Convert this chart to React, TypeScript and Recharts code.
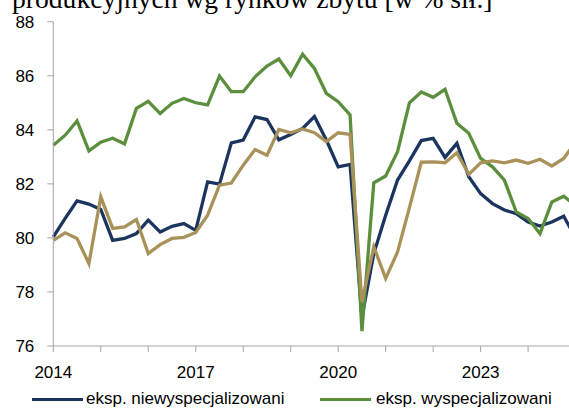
import { LineChart, Line, XAxis, YAxis } from 'recharts';

// quarter index, 0 = 2014 Q1
const quarters = Array.from({ length: 45 }, (_, i) => i);

const nonSpecialised = [
  80.04, 80.72, 81.37, 81.25, 81.05, 79.91, 79.98, 80.16, 80.66, 80.22, 80.43, 80.53,
  80.28, 82.07, 81.99, 83.52, 83.62, 84.48, 84.38, 83.63, 83.83, 84.05, 84.49, 83.62,
  82.63, 82.72, 77.07, 79.42, 80.84, 82.14, 82.85, 83.6, 83.68, 82.98, 83.5, 82.26,
  81.64, 81.27, 81.03, 80.9, 80.59, 80.44, 80.59, 80.8, 80.0,
];

const specialised = [
  83.43, 83.8, 84.33, 83.22, 83.54, 83.69, 83.48, 84.79, 85.05, 84.6, 84.98, 85.16,
  85.0, 84.92, 85.99, 85.41, 85.41, 85.96, 86.36, 86.62, 86.0, 86.8, 86.27, 85.35,
  85.04, 84.55, 76.55, 82.04, 82.29, 83.19, 85.0, 85.4, 85.2, 85.5, 84.24, 83.87,
  82.94, 82.63, 82.14, 80.96, 80.72, 80.16, 81.33, 81.54, 81.2,
];

const other = [
  79.91, 80.19, 79.98, 79.05, 81.52, 80.35, 80.41, 80.68, 79.42, 79.75, 79.98, 80.02,
  80.2, 80.84, 81.95, 82.03, 82.69, 83.27, 83.06, 84.01, 83.89, 84.03, 83.89, 83.56,
  83.89, 83.83, 77.63, 79.67, 78.5, 79.48, 81.12, 82.8, 82.81, 82.78, 83.15, 82.35,
  82.78, 82.85, 82.78, 82.88, 82.76, 82.91, 82.66, 82.94, 83.55,
];

const yTicks = [76, 78, 80, 82, 84, 86, 88];
const xTicks = [0, 4, 8, 12, 16, 20, 24, 28, 32, 36, 40, 44];
const labelledYears: Record<number, string> = { 0: '2014', 12: '2017', 24: '2020', 36: '2023' };

const NAVY = '#1b355e';
const GREEN = '#5b8f3d';
const TAN = '#a8925a';
const AXIS = '#a6a6a6';

const legendItems = [
  { name: 'eksp. niewyspecjalizowani', color: NAVY, lineLeft: 32, textLeft: 86 },
  { name: 'eksp. wyspecjalizowani', color: GREEN, lineLeft: 320, textLeft: 376 },
];

const data = quarters.map(q => ({
  q,
  nonSpecialised: nonSpecialised[q],
  specialised: specialised[q],
  other: other[q],
}));

export default function App() {
  return (
    <div
      style={{
        position: 'absolute',
        left: 0,
        top: 0,
        width: 569,
        height: 410,
        overflow: 'hidden',
        background: '#fff',
        fontFamily: '"Liberation Sans", Arial, sans-serif',
      }}
    >
      <div
        style={{
          position: 'absolute',
          left: 12,
          top: -15,
          fontFamily: '"Liberation Serif", "Times New Roman", serif',
          fontSize: 27.6,
          lineHeight: 1,
          whiteSpace: 'nowrap',
          color: '#000',
        }}
      >
        produkcyjnych wg rynków zbytu [w % sił.]
      </div>

      <div style={{ position: 'absolute', left: 0, top: 0 }}>
        <LineChart width={580} height={400} data={data} margin={{ top: 21.7, right: 4.4, bottom: 24, left: 0 }}>
          <XAxis
            dataKey="q"
            type="number"
            domain={[0, 44]}
            ticks={xTicks}
            interval={0}
            tickFormatter={(v: number) => labelledYears[v] ?? ''}
            stroke={AXIS}
            tickSize={6}
            tickMargin={14}
            height={30}
            tick={{ fill: '#000', fontSize: 17 }}
          />
          <YAxis
            domain={[76, 88]}
            ticks={yTicks}
            interval={0}
            width={53.3}
            stroke={AXIS}
            tickSize={6}
            tickMargin={13}
            tick={{ fill: '#000', fontSize: 17 }}
          />
          <Line type="linear" dataKey="nonSpecialised" stroke={NAVY} strokeWidth={3.3} dot={false} isAnimationActive={false} />
          <Line type="linear" dataKey="specialised" stroke={GREEN} strokeWidth={3.3} dot={false} isAnimationActive={false} />
          <Line type="linear" dataKey="other" stroke={TAN} strokeWidth={3.3} dot={false} isAnimationActive={false} />
        </LineChart>
      </div>

      {legendItems.map(item => (
        <div key={item.name}>
          <div
            style={{
              position: 'absolute',
              left: item.lineLeft,
              top: 397.5,
              width: 51,
              height: 3.5,
              background: item.color,
            }}
          />
          <div
            style={{
              position: 'absolute',
              left: item.textLeft,
              top: 389,
              fontSize: 17,
              lineHeight: '20px',
              color: '#000',
              whiteSpace: 'nowrap',
            }}
          >
            {item.name}
          </div>
        </div>
      ))}
    </div>
  );
}
